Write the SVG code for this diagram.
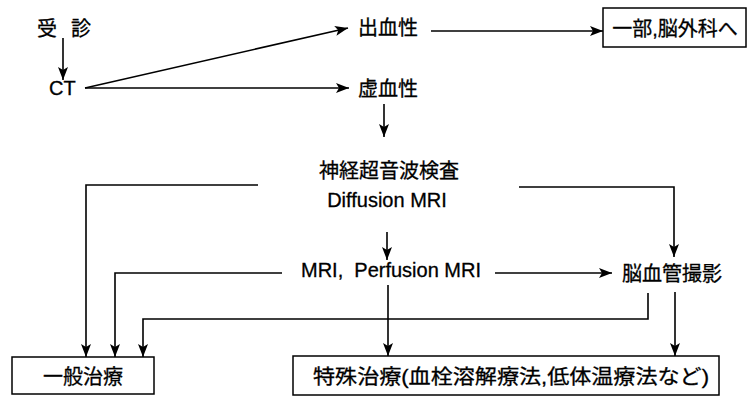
<svg xmlns="http://www.w3.org/2000/svg" width="752" height="403" viewBox="0 0 752 403">
<defs>
<marker id="ah" viewBox="0 0 13 10" refX="13" refY="5" markerWidth="13" markerHeight="10" markerUnits="userSpaceOnUse" orient="auto">
<path d="M0,0 L13,5 L0,10 L3,5 Z" fill="#000"/>
</marker>
<style>
.t{font-family:"Liberation Sans","Noto Sans CJK JP",sans-serif;fill:#000;stroke:#000;stroke-width:0.3;}
.c{font-size:20px;}
.l{font-size:20px;}
.box{fill:#fff;stroke:#000;stroke-width:1.5;}
.e{fill:none;stroke:#000;stroke-width:1.6;}
.a{marker-end:url(#ah);}
</style>
</defs>
<rect width="752" height="403" fill="#fff"/>
<g id="connectors">
<path class="e a" d="M63,38 V80"/>
<path class="e a" d="M85,88 L348,28"/>
<path class="e a" d="M85,88 H349"/>
<path class="e a" d="M431,31 H603"/>
<path class="e a" d="M384,104 V137"/>
<path class="e a" d="M258,185 H86 V357"/>
<path class="e a" d="M519,187 H674 V257"/>
<path class="e a" d="M387,232 V260"/>
<path class="e a" d="M282,273 H115 V357"/>
<path class="e a" d="M495,273 H612"/>
<path class="e a" d="M648,293 V319 H143 V357"/>
<path class="e a" d="M388,285 V356"/>
<path class="e a" d="M675,292 V356"/>
</g>
<g id="n-jushin"><text class="t c" x="37" y="36" font-size="18">受</text><text class="t c" x="71" y="36" font-size="18">診</text></g>
<g id="n-ct"><text class="t c" x="49" y="95" font-size="19">CT</text></g>
<g id="n-shukketsu"><text class="t c" x="358" y="35">出血性</text></g>
<g id="n-kyoketsu"><text class="t c" x="358" y="96">虚血性</text></g>
<g id="n-noge"><rect class="box" x="603" y="8" width="143" height="39"/><text class="t c" x="675" y="36" font-size="22" text-anchor="middle">一部,脳外科へ</text></g>
<g id="n-kensa"><text class="t c" x="389" y="178" text-anchor="middle">神経超音波検査</text><text class="t l" x="387" y="207" text-anchor="middle">Diffusion MRI</text></g>
<g id="n-mri"><text class="t l" x="391" y="277" text-anchor="middle" xml:space="preserve">MRI,  Perfusion MRI</text></g>
<g id="n-angio"><text class="t c" x="622" y="281">脳血管撮影</text></g>
<g id="n-ippan"><rect class="box" x="12" y="357" width="142" height="37"/><text class="t c" x="83" y="384" font-size="21" text-anchor="middle">一般治療</text></g>
<g id="n-tokushu"><rect class="box" x="293" y="356" width="426" height="39"/><text class="t c" x="313" y="384" font-size="21" textLength="396" lengthAdjust="spacingAndGlyphs">特殊治療(血栓溶解療法,低体温療法など)</text></g>
</svg>
